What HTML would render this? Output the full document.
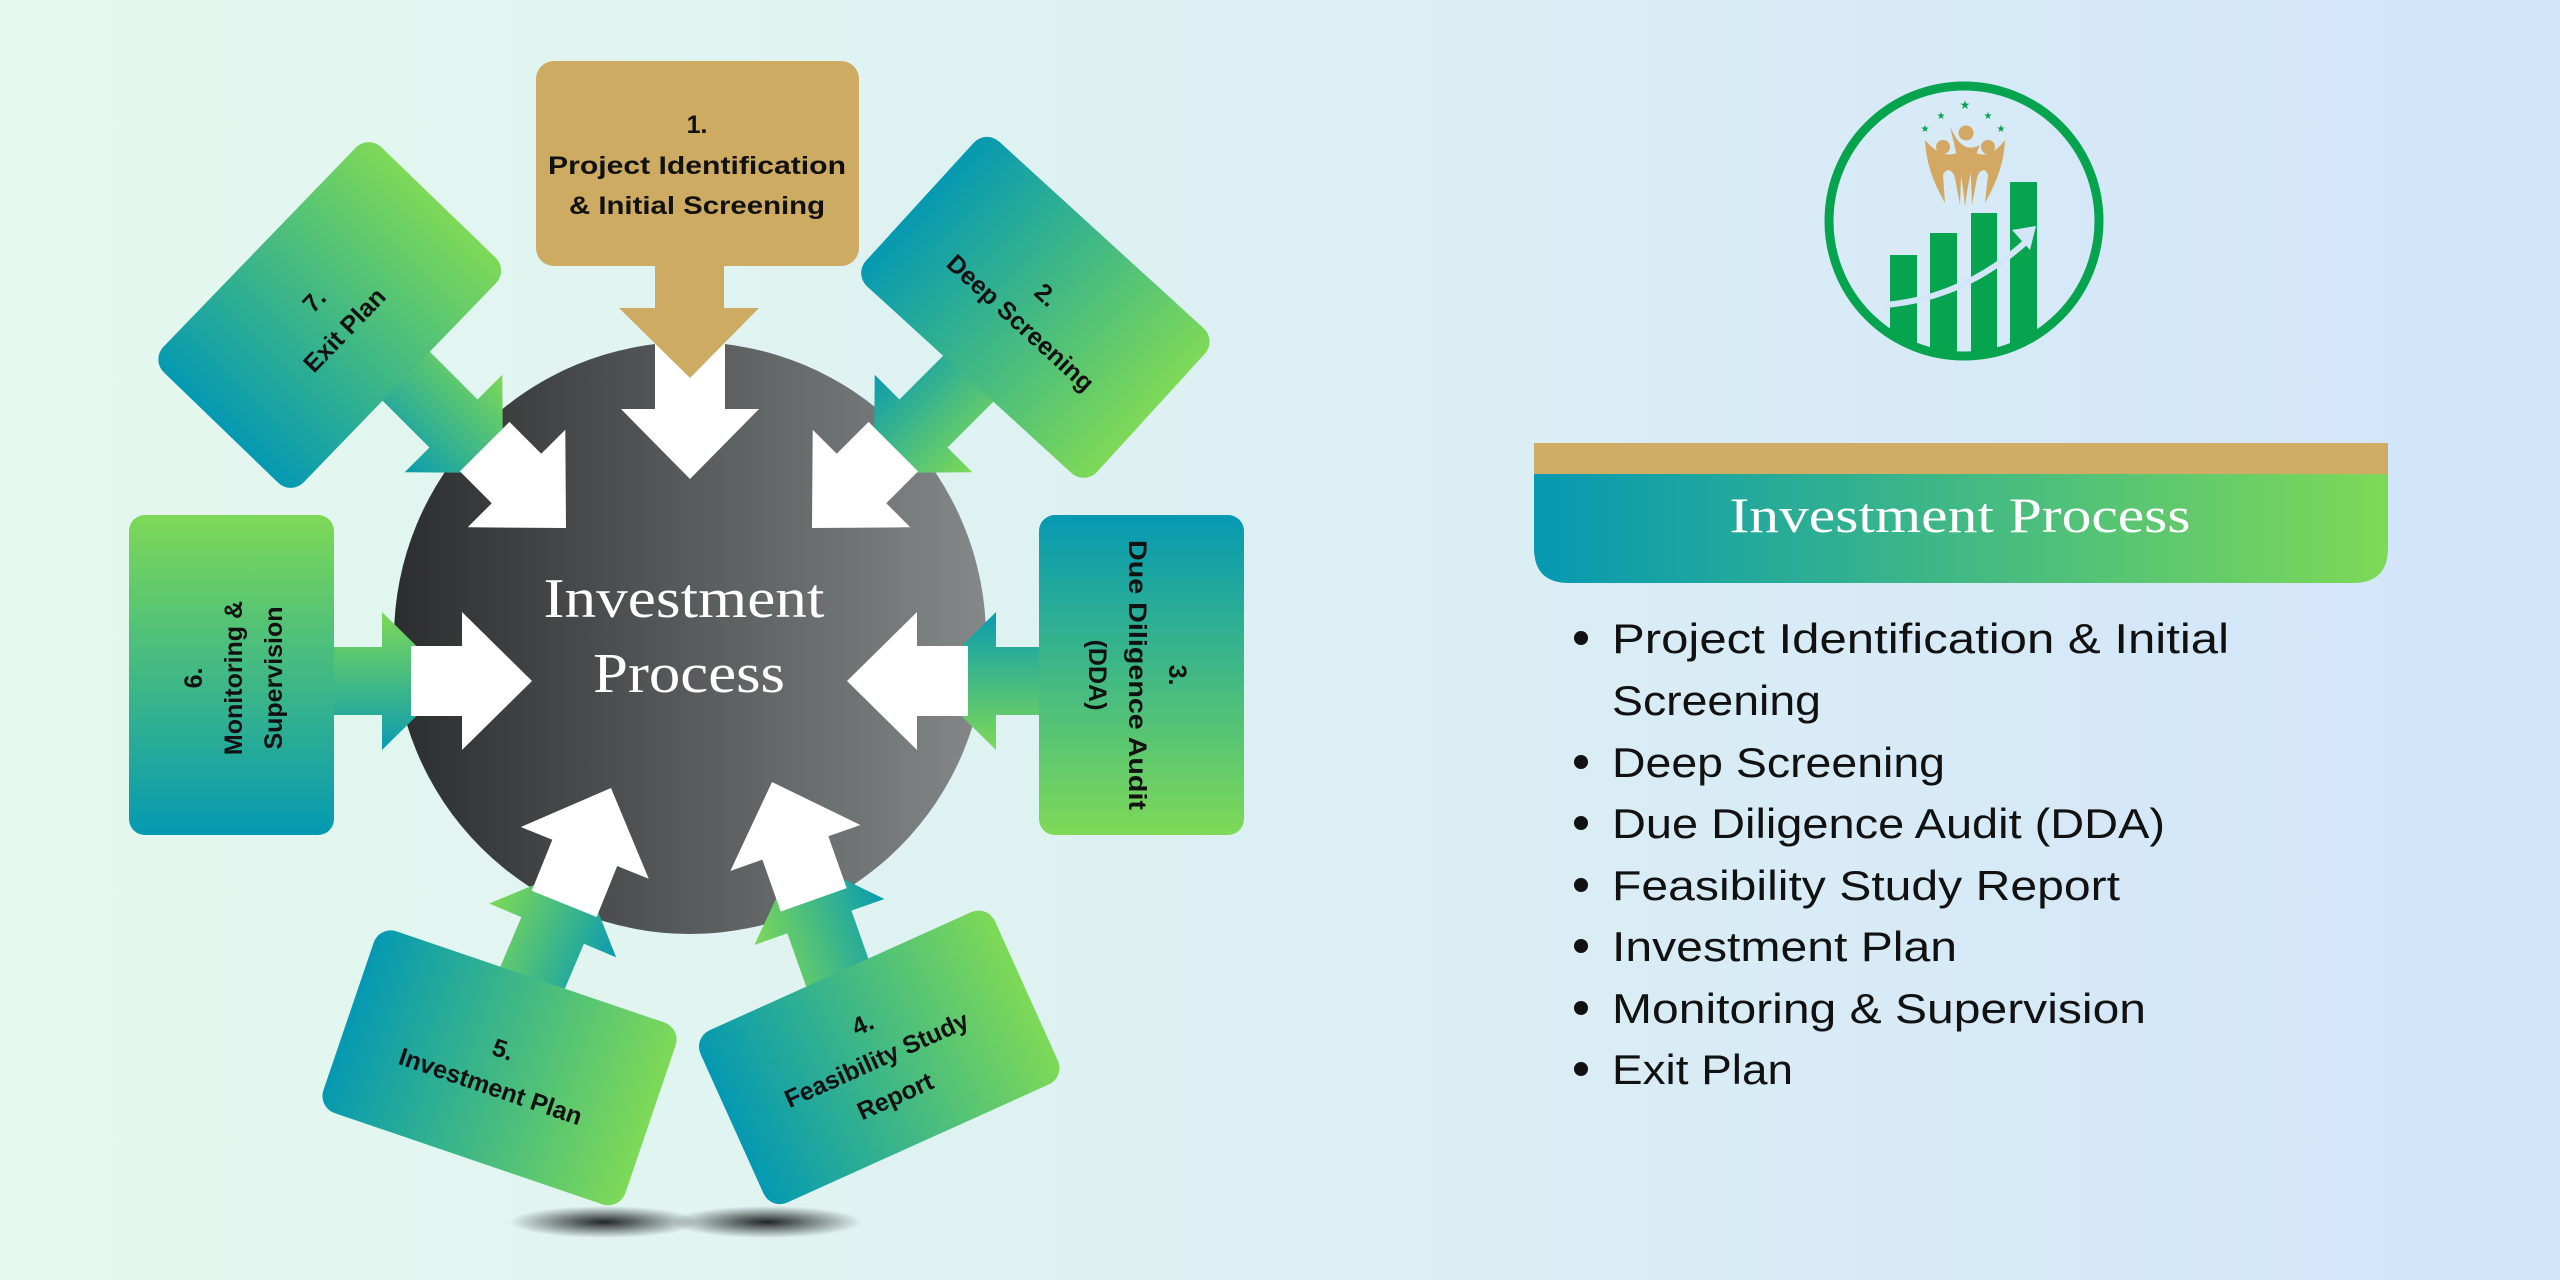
<!DOCTYPE html>
<html><head><meta charset="utf-8"><style>
html,body{margin:0;padding:0;width:2560px;height:1280px;overflow:hidden}
svg{display:block}
</style></head><body>
<svg width="2560" height="1280" viewBox="0 0 2560 1280" xmlns="http://www.w3.org/2000/svg">
<defs>
<linearGradient id="bg" x1="0" y1="0" x2="1" y2="0"><stop offset="0" stop-color="#e5f8ee"/><stop offset="0.5" stop-color="#dcf0f3"/><stop offset="1" stop-color="#d2e4fa"/></linearGradient>
<linearGradient id="circ" x1="0" y1="0" x2="1" y2="0"><stop offset="0" stop-color="#2b2d2e"/><stop offset="1" stop-color="#858888"/></linearGradient>
<linearGradient id="tg" x1="0" y1="0" x2="1" y2="0"><stop offset="0" stop-color="#0599b2"/><stop offset="1" stop-color="#7ed957"/></linearGradient>
<linearGradient id="tgv" x1="0" y1="0" x2="0" y2="1"><stop offset="0" stop-color="#0599b2"/><stop offset="1" stop-color="#7ed957"/></linearGradient>
<linearGradient id="gtv" x1="0" y1="0" x2="0" y2="1"><stop offset="0" stop-color="#7ed957"/><stop offset="1" stop-color="#0599b2"/></linearGradient>
<linearGradient id="ga" gradientUnits="userSpaceOnUse" x1="0" y1="-69" x2="0" y2="69"><stop offset="0" stop-color="#7ed957"/><stop offset="1" stop-color="#0a9bb0"/></linearGradient>
<radialGradient id="sh"><stop offset="0" stop-color="#000" stop-opacity="0.85"/><stop offset="1" stop-color="#000" stop-opacity="0"/></radialGradient>
<clipPath id="lc"><circle cx="1964" cy="221" r="131"/></clipPath>
</defs>
<rect width="2560" height="1280" fill="url(#bg)"/>

<!-- shadows -->
<ellipse cx="604" cy="1222" rx="95" ry="16" fill="url(#sh)"/>
<ellipse cx="767" cy="1222" rx="95" ry="16" fill="url(#sh)"/>

<!-- circle -->
<circle cx="690" cy="638" r="296" fill="url(#circ)"/>

<!-- green arrows -->
<g fill="url(#ga)">
<polygon transform="translate(452,681)" points="0,0 -70,69 -70,34 -140,34 -140,-34 -70,-34 -70,-69"/>
<polygon transform="translate(926,681) rotate(180)" points="0,0 -70,69 -70,34 -140,34 -140,-34 -70,-34 -70,-69"/>
<polygon transform="translate(503,473) rotate(45)" points="0,0 -70,69 -70,34 -170,34 -170,-34 -70,-34 -70,-69"/>
<polygon transform="translate(874,473) rotate(135)" points="0,0 -70,69 -70,34 -170,34 -170,-34 -70,-34 -70,-69"/>
<polygon transform="translate(580,866) rotate(-67)" points="0,0 -70,69 -70,34 -170,34 -170,-34 -70,-34 -70,-69"/>
<polygon transform="translate(796,856) rotate(-109.5)" points="0,0 -70,69 -70,34 -170,34 -170,-34 -70,-34 -70,-69"/>
</g>

<!-- white arrows -->
<g fill="#fff">
<polygon transform="translate(690,479) rotate(90)" points="0,0 -70,69 -70,35 -137,35 -137,-35 -70,-35 -70,-69"/>
<polygon transform="translate(532,681)" points="0,0 -70,69 -70,35 -121,35 -121,-35 -70,-35 -70,-69"/>
<polygon transform="translate(847,681) rotate(180)" points="0,0 -70,69 -70,35 -121,35 -121,-35 -70,-35 -70,-69"/>
<polygon transform="translate(566,528) rotate(45)" points="0,0 -70,69 -70,35 -115,35 -115,-35 -70,-35 -70,-69"/>
<polygon transform="translate(812,528) rotate(135)" points="0,0 -70,69 -70,35 -115,35 -115,-35 -70,-35 -70,-69"/>
<polygon transform="translate(611,788) rotate(-68)" points="0,0 -70,69 -70,35 -125,35 -125,-35 -70,-35 -70,-69"/>
<polygon transform="translate(772,782) rotate(-109.5)" points="0,0 -70,69 -70,35 -125,35 -125,-35 -70,-35 -70,-69"/>
</g>

<!-- center text -->
<g font-family="Liberation Serif, serif" fill="#fff" font-size="56" text-anchor="middle">
<text x="684" y="617" textLength="281" lengthAdjust="spacingAndGlyphs">Investment</text>
<text x="689" y="692" textLength="192" lengthAdjust="spacingAndGlyphs">Process</text>
</g>

<!-- box 1 gold -->
<g fill="#cdab62">
<rect x="536" y="61" width="323" height="205" rx="18"/>
<polygon points="655,262 724,262 724,308 759,308 690,378 619,308 655,308"/>
</g>

<g font-family="Liberation Sans, sans-serif" font-weight="bold" font-size="25" fill="#111" text-anchor="middle">
<text x="697" y="133">1.</text>
<text x="697" y="174" textLength="298" lengthAdjust="spacingAndGlyphs">Project Identification</text>
<text x="697" y="214" textLength="256" lengthAdjust="spacingAndGlyphs">&amp; Initial Screening</text>

<!-- box 7 -->
<g transform="translate(329,315) rotate(-46)">
<rect x="-156" y="-97" width="313" height="195" rx="18" fill="url(#tg)"/>
<text x="0" y="-12">7.</text>
<text x="0" y="30">Exit Plan</text>
</g>
<!-- box 2 -->
<g transform="translate(1035,307) rotate(42.4)">
<rect x="-156" y="-98" width="313" height="196" rx="18" fill="url(#tg)"/>
<text x="0" y="-8">2.</text>
<text x="0" y="30">Deep Screening</text>
</g>
<!-- box 3 -->
<rect x="1039" y="515" width="205" height="320" rx="16" fill="url(#tgv)"/>
<g transform="translate(1141,675) rotate(90)">
<text x="0" y="-28">3.</text>
<text x="0" y="12" textLength="270" lengthAdjust="spacingAndGlyphs">Due Diligence Audit</text>
<text x="0" y="52">(DDA)</text>
</g>
<!-- box 6 -->
<rect x="129" y="515" width="205" height="320" rx="16" fill="url(#gtv)"/>
<g transform="translate(231,678) rotate(-90)">
<text x="0" y="-29">6.</text>
<text x="0" y="11">Monitoring &amp;</text>
<text x="0" y="51">Supervision</text>
</g>
<!-- box 5 -->
<g transform="translate(500,1068) rotate(18.8)">
<rect x="-160" y="-96" width="319" height="192" rx="18" fill="url(#tg)"/>
<text x="-3" y="-10">5.</text>
<text x="-3" y="29">Investment Plan</text>
</g>
<!-- box 4 -->
<g transform="translate(879,1058) rotate(-24.3)">
<rect x="-161" y="-95" width="323" height="189" rx="18" fill="url(#tg)"/>
<text x="-1" y="-29">4.</text>
<text x="-3" y="9">Feasibility Study</text>
<text x="-1" y="50">Report</text>
</g>
</g>

<!-- logo -->
<circle cx="1964" cy="221" r="135" fill="none" stroke="#06a44f" stroke-width="9"/>
<g clip-path="url(#lc)" fill="#06a44f">
<rect x="1890" y="255" width="27" height="120"/>
<rect x="1930" y="233" width="27" height="140"/>
<rect x="1971" y="213" width="26" height="160"/>
<rect x="2010" y="182" width="27" height="190"/>
</g>
<path d="M1885,305 Q1965,298 2028,240" fill="none" stroke="#d3e5f8" stroke-width="6"/>
<polygon points="2036,226 2012,230 2030,250" fill="#d3e5f8"/>
<g fill="#d2a863">
<circle cx="1943" cy="147" r="7"/><circle cx="1966" cy="133" r="7.5"/><circle cx="1988" cy="147" r="7"/>
<path d="M1925,140 C1926,165 1935,185 1945,203 L1943,175 C1946,168 1952,168 1955,178 L1960,205 L1962,150 C1955,155 1942,160 1925,140 Z"/>
<path d="M1950,126 C1955,150 1962,170 1965,207 C1968,180 1975,155 1980,145 C1970,150 1960,150 1950,126 Z"/>
<path d="M2005,140 C1990,160 1978,155 1970,150 L1972,205 L1977,178 C1980,168 1986,168 1988,175 L1985,203 C1995,185 2004,165 2005,140 Z"/>
</g>
<g fill="#06a44f" font-family="DejaVu Sans, sans-serif" font-size="10" text-anchor="middle">
<text x="1925" y="132">★</text><text x="1941" y="119">★</text><text x="1965" y="109" font-size="12">★</text><text x="1988" y="119">★</text><text x="2001" y="132">★</text>
</g>

<!-- right banner -->
<rect x="1534" y="443" width="854" height="32" fill="#cfad64"/>
<path d="M1534,474 L2388,474 L2388,548 Q2388,583 2353,583 L1569,583 Q1534,583 1534,548 Z" fill="url(#tg)"/>
<text x="1960" y="532" font-family="Liberation Serif, serif" font-size="50" fill="#fff" text-anchor="middle" textLength="461" lengthAdjust="spacingAndGlyphs">Investment Process</text>

<!-- bullet list -->
<g font-family="Liberation Sans, sans-serif" font-size="42" fill="#111">
<circle cx="1581" cy="638" r="7"/>
<text x="1612" y="653" textLength="617" lengthAdjust="spacingAndGlyphs">Project Identification &amp; Initial</text>
<text x="1612" y="715" textLength="209" lengthAdjust="spacingAndGlyphs">Screening</text>
<circle cx="1581" cy="762" r="7"/>
<text x="1612" y="777" textLength="333" lengthAdjust="spacingAndGlyphs">Deep Screening</text>
<circle cx="1581" cy="823" r="7"/>
<text x="1612" y="838" textLength="553" lengthAdjust="spacingAndGlyphs">Due Diligence Audit (DDA)</text>
<circle cx="1581" cy="885" r="7"/>
<text x="1612" y="900" textLength="508" lengthAdjust="spacingAndGlyphs">Feasibility Study Report</text>
<circle cx="1581" cy="946" r="7"/>
<text x="1612" y="961" textLength="345" lengthAdjust="spacingAndGlyphs">Investment Plan</text>
<circle cx="1581" cy="1008" r="7"/>
<text x="1612" y="1023" textLength="534" lengthAdjust="spacingAndGlyphs">Monitoring &amp; Supervision</text>
<circle cx="1581" cy="1069" r="7"/>
<text x="1612" y="1084" textLength="181" lengthAdjust="spacingAndGlyphs">Exit Plan</text>
</g>
</svg>
</body></html>
